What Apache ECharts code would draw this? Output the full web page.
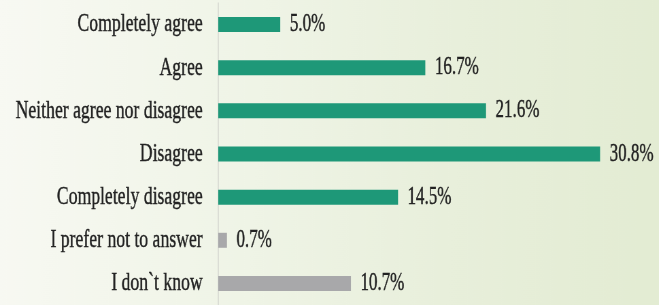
<!DOCTYPE html>
<html lang="en">
<head>
    <meta charset="UTF-8">
    <script src="https://cdn.jsdelivr.net/npm/echarts@6/dist/echarts.min.js"></script>
    <style>
        html, body { margin: 0; padding: 0; overflow: hidden; width: 659px; height: 305px; }
        /* the source lettering is a tall, narrow serif: draw wide, then squeeze */
        #chart { width: 969px; height: 305px; transform: scaleX(0.68); transform-origin: 0 0; }
    </style>
</head>
<body>
<div id="chart"></div>
<script>
    var categories = ["Completely agree", "Agree", "Neither agree nor disagree", "Disagree",
        "Completely disagree", "I prefer not to answer", "I don`t know"];
    var shares = [5.0, 16.7, 21.6, 30.8, 14.5, 0.7, 10.7];
    // answers shown in grey instead of green
    var noOpinion = ["I prefer not to answer", "I don`t know"];

    var font = '"Liberation Serif", "DejaVu Serif", serif';
    var ink = '#222222';

    var myChart = echarts.init(document.getElementById('chart'));
    var option = {
        backgroundColor: new echarts.graphic.LinearGradient(0, 0, 1, 0.3, [
            {offset: 0, color: '#f8f9f3'},
            {offset: 0.4, color: '#eff4e6'},
            {offset: 0.7, color: '#e8efdb'},
            {offset: 1, color: '#e3ecd3'}
        ]),
        animation: false,
        grid: {left: 321, top: 3, width: 638, height: 308},
        xAxis: {
            type: 'value',
            min: 0,
            max: 35,
            show: false
        },
        yAxis: {
            type: 'category',
            inverse: true,
            data: categories,
            axisLine: {lineStyle: {color: '#d4d6cf', width: 1.5}},
            axisTick: {length: 7, lineStyle: {color: '#d4d6cf', width: 1.5}},
            axisLabel: {
                margin: 23,
                fontFamily: font,
                fontSize: 26,
                color: ink,
                textBorderColor: ink,
                textBorderWidth: 0.4
            }
        },
        series: [{
            type: 'bar',
            barWidth: 15,
            data: shares,
            itemStyle: {
                color: function (p) {
                    return noOpinion.indexOf(categories[p.dataIndex]) >= 0 ? '#a8a8aa' : '#1e9878';
                }
            },
            label: {
                show: true,
                position: 'right',
                distance: 14,
                fontFamily: font,
                fontSize: 25,
                color: ink,
                textBorderColor: ink,
                textBorderWidth: 0.4,
                formatter: function (p) { return p.value.toFixed(1) + '%'; }
            }
        }]
    };
    myChart.setOption(option);
</script>
</body>
</html>
